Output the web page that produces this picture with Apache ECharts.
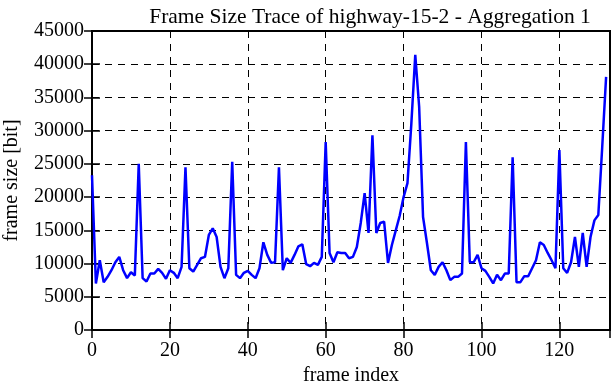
<!DOCTYPE html>
<html>
<head>
<meta charset="utf-8">
<script src="https://cdn.jsdelivr.net/npm/echarts@6/dist/echarts.min.js"></script>
<style>html,body{margin:0;padding:0;background:#fff}#c{width:612px;height:382px}</style>
</head>
<body>
<div id="c"></div>
<script>
const titleText = "Frame Size Trace of highway-15-2 - Aggregation 1";
const xName = "frame index";
const yName = "frame size [bit]";
const xTicks = [0, 20, 40, 60, 80, 100, 120];
const yTicks = [0, 5000, 10000, 15000, 20000, 25000, 30000, 35000, 40000, 45000];
const frameSizes = [
  23300, 7000, 10500, 7200, 8000, 9000, 10200, 11000, 9000, 7800,
  8700, 8200, 25000, 7800, 7300, 8500, 8500, 9200, 8600, 7700,
  9000, 8600, 7800, 9500, 24500, 9300, 8800, 9800, 10800, 11000,
  14300, 15300, 14000, 9500, 7800, 9300, 25300, 8300, 7800, 8600,
  8900, 8300, 7800, 9300, 13200, 11300, 10100, 10200, 24500, 9000,
  10800, 10100, 11300, 12600, 12900, 9900, 9600, 10100, 9800, 11000,
  28300, 11600, 10200, 11700, 11600, 11600, 10800, 11000, 12500, 16100,
  20600, 14600, 29300, 14600, 16100, 16300, 10100, 12800, 15000, 17200,
  20000, 22100, 31100, 41400, 33600, 17000, 13100, 9000, 8300, 9500,
  10200, 9000, 7500, 8000, 8000, 8500, 28300, 10200, 10200, 11300,
  9300, 8900, 8000, 7000, 8300, 7500, 8500, 8500, 26000, 7200,
  7200, 8100, 8100, 9300, 10500, 13200, 12800, 11600, 10500, 9300,
  27100, 9300, 8600, 10200, 14000, 9500, 14600, 9500, 14000, 16500,
  17300, 27500, 38100
];

const font = "Liberation Serif";
const chart = echarts.init(document.getElementById('c'), null, {renderer: 'canvas'});
const xTickSet = new Set(xTicks);
chart.setOption({
  animation: false,
  title: {
    text: titleText, left: 365, top: 1, textAlign: 'center',
    textStyle: {fontFamily: font, fontSize: 21.5, fontWeight: 'normal', color: '#000'}
  },
  grid: {left: 92, right: 2, top: 31, bottom: 52, outerBoundsMode: 'none', containLabel: false,
    show: true, borderColor: '#000', borderWidth: 2, backgroundColor: 'transparent'},
  xAxis: [{
    type: 'value', min: 0, max: 133, interval: 20,
    name: xName, nameLocation: 'middle', nameGap: 33,
    nameTextStyle: {fontFamily: font, fontSize: 20, color: '#000'},
    axisLine: {show: true, lineStyle: {color: '#000', width: 2}},
    axisTick: {show: true, inside: true, length: 8, lineStyle: {color: '#000', width: 1.5}},
    axisLabel: {fontFamily: font, fontSize: 20, color: '#000', margin: 11,
      formatter: v => xTickSet.has(v) ? String(v) : ''},
    splitLine: {show: true, lineStyle: {color: '#000', type: [7, 6], width: 1}}
  }, {
    type: 'value', min: 0, max: 133, interval: 20, position: 'top',
    axisLine: {show: true, lineStyle: {color: '#000', width: 2}},
    axisTick: {show: true, inside: true, length: 8, lineStyle: {color: '#000', width: 1.5}},
    axisLabel: {show: false}, splitLine: {show: false}
  }],
  yAxis: [{
    type: 'value', min: yTicks[0], max: yTicks[yTicks.length - 1], interval: 5000,
    name: yName, nameLocation: 'middle', nameGap: 70, nameRotate: 90,
    nameTextStyle: {fontFamily: font, fontSize: 20, color: '#000'},
    axisLine: {show: true, lineStyle: {color: '#000', width: 2}},
    axisTick: {show: true, inside: true, length: 8, lineStyle: {color: '#000', width: 1.5}},
    axisLabel: {fontFamily: font, fontSize: 20, color: '#000', margin: 8,
      formatter: v => String(v)},
    splitLine: {show: true, lineStyle: {color: '#000', type: [7, 6], width: 1}}
  }, {
    type: 'value', min: yTicks[0], max: yTicks[yTicks.length - 1], interval: 5000, position: 'right',
    axisLine: {show: true, lineStyle: {color: '#000', width: 2}},
    axisTick: {show: true, inside: true, length: 8, lineStyle: {color: '#000', width: 1.5}},
    axisLabel: {show: false}, splitLine: {show: false}
  }],
  series: [{
    type: 'line', xAxisIndex: 0, yAxisIndex: 0,
    data: frameSizes.map((v, i) => [i, v]),
    showSymbol: false, symbol: 'none',
    lineStyle: {color: '#0000ff', width: 2.5},
    itemStyle: {color: '#0000ff'}
  }]
});
</script>
</body>
</html>
